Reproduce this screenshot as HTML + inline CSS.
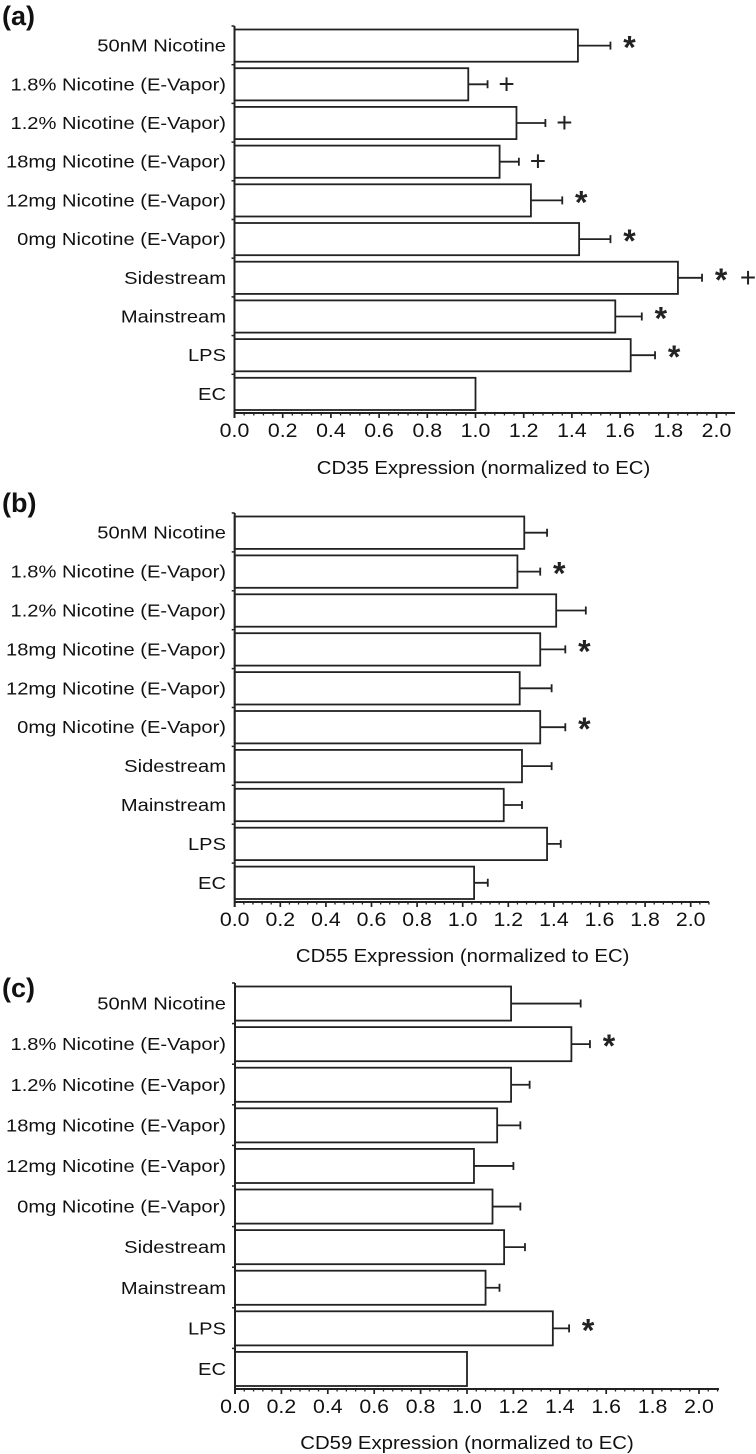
<!DOCTYPE html>
<html><head><meta charset="utf-8"><style>
html,body{margin:0;padding:0;background:#fff;}
svg{display:block;font-family:"Liberation Sans",Arial,sans-serif;}
</style></head><body>
<svg id="fig" width="756" height="1454" viewBox="0 0 756 1454" xmlns="http://www.w3.org/2000/svg"></svg>
<script>
const categories = ["50nM Nicotine","1.8% Nicotine (E-Vapor)","1.2% Nicotine (E-Vapor)","18mg Nicotine (E-Vapor)","12mg Nicotine (E-Vapor)","0mg Nicotine (E-Vapor)","Sidestream","Mainstream","LPS","EC"];
const tickLabels = ["0.0","0.2","0.4","0.6","0.8","1.0","1.2","1.4","1.6","1.8","2.0"];
const cd35Values = [1.425,0.97,1.17,1.10,1.23,1.43,1.84,1.58,1.644,1.0];
const cd35Errors = [1.56,1.05,1.29,1.18,1.36,1.56,1.94,1.69,1.745,1.0];
const cd35Marks = ["*","+","+","+","*","*","* +","*","*",""];
const cd55Values = [1.27,1.24,1.41,1.34,1.25,1.34,1.26,1.18,1.37,1.05];
const cd55Errors = [1.37,1.34,1.54,1.45,1.39,1.45,1.39,1.26,1.43,1.11];
const cd55Marks = ["","*","","*","","*","","","",""];
const cd59Values = [1.19,1.45,1.19,1.13,1.03,1.11,1.16,1.08,1.37,1.0];
const cd59Errors = [1.49,1.53,1.27,1.23,1.20,1.23,1.25,1.14,1.44,1.0];
const cd59Marks = ["","*","","","","","","","*",""];

const NS="http://www.w3.org/2000/svg";
const svg=document.getElementById('fig');
function mk(tag,attrs,parent){const e=document.createElementNS(NS,tag);for(const k in attrs)e.setAttribute(k,attrs[k]);(parent||svg).appendChild(e);return e;}
function widen(t,f){const w=t.getComputedTextLength();t.setAttribute('textLength',(w*f).toFixed(1));t.setAttribute('lengthAdjust','spacingAndGlyphs');}

const panels=[
 {letter:"(a)",ly:26,x0:234.5,scale:241,axEnd:735,top:26,base:413,title:"CD35 Expression (normalized to EC)",titleY:474,tickY:437,vals:cd35Values,errs:cd35Errors,marks:cd35Marks},
 {letter:"(b)",ly:513,x0:234.7,scale:228,axEnd:709,top:513,base:902,title:"CD55 Expression (normalized to EC)",titleY:962,tickY:926,vals:cd55Values,errs:cd55Errors,marks:cd55Marks},
 {letter:"(c)",ly:998,x0:235,scale:232,axEnd:719,top:983,base:1389,title:"CD59 Expression (normalized to EC)",titleY:1449,tickY:1413,vals:cd59Values,errs:cd59Errors,marks:cd59Marks}
];

panels.forEach((p,pi)=>{
  const g=mk('g',{});
  
  
  const xs=v=>p.x0+v*p.scale;
  const pitch=(p.base-p.top)/categories.length;
  const letter=mk('text',{x:2,y:p.ly-1,'font-size':27,'font-weight':'bold',fill:'#111'},g);
  letter.textContent=p.letter;
  
  
  categories.forEach((c,i)=>{
    const yTop=p.top+i*pitch+3.5, h=pitch-6.5, yc=yTop+h/2;
    const lab=mk('text',{x:226,y:yc+6,'font-size':17.5,'text-anchor':'end',fill:'#111'},g);
    lab.textContent=c;
    
    
    widen(lab,1.15);
    const bar=mk('rect',{x:xs(0),y:yTop,width:xs(p.vals[i])-xs(0),height:h,fill:'#fff',stroke:'#222','stroke-width':1.8},g);
    
    
    if(p.errs[i]>p.vals[i]){
      const eb=mk('path',{d:`M${xs(p.vals[i])},${yc}H${xs(p.errs[i])}M${xs(p.errs[i])},${yc-4}V${yc+4}`,stroke:'#222','stroke-width':1.8,fill:'none'},g);
      
      
    }
    if(p.marks[i]){
      p.marks[i].split(' ').forEach((m,j)=>{
        const t=mk('text',{x:xs(p.errs[i])+19+j*27,y:yc+(m=="*"?13:9),'font-size':m=="*"?32:28,'font-weight':m=="*"?'bold':'normal','text-anchor':'middle',fill:'#222'},g);
        t.textContent=m;
        
        
      });
    }
    const yt=mk('line',{x1:xs(0)-3,x2:xs(0),y1:p.top+i*pitch,y2:p.top+i*pitch,stroke:'#222','stroke-width':1.5},g);
    
    
  });
  const ya=mk('line',{x1:xs(0),x2:xs(0),y1:p.top,y2:p.base+5,stroke:'#222','stroke-width':2},g);
  
  
  const xa=mk('line',{x1:xs(0),x2:p.axEnd,y1:p.base,y2:p.base,stroke:'#222','stroke-width':2},g);
  
  
  for(let k=0;k*0.04<=(p.axEnd-p.x0)/p.scale+0.001;k++){
    const v=k*0.04, major=k%5===0;
    mk('line',{x1:xs(v),x2:xs(v),y1:p.base,y2:p.base+(major?5:2.5),stroke:'#222','stroke-width':major?1.7:1.3},g);
  }
  tickLabels.forEach((t,k)=>{
    const tl=mk('text',{x:xs(parseFloat(t)),y:p.tickY,'font-size':19,'text-anchor':'middle',fill:'#111'},g);
    tl.textContent=t;
    
    
    widen(tl,1.12);
  });
  const tt=mk('text',{x:xs(1.0)+(pi===0?8:0),y:p.titleY,'font-size':18,'text-anchor':'middle',fill:'#111'},g);
  tt.textContent=p.title;
  
  
  widen(tt,1.13);
});
</script>
</body></html>
